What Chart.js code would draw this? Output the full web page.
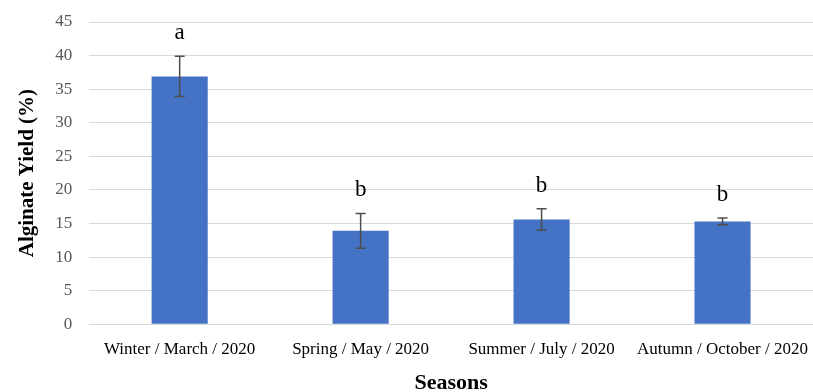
<!DOCTYPE html>
<html>
<head>
<meta charset="utf-8">
<script src="https://cdn.jsdelivr.net/npm/chart.js@4/dist/chart.umd.min.js"></script>
<style>
  html, body { margin: 0; padding: 0; background: #ffffff; }
  #wrap { width: 813px; height: 392px; }
</style>
</head>
<body>
<div id="wrap"><canvas id="c"></canvas></div>
<script>
// Alginate yield by harvest season, mean ± SD with significance letters
const seasons = ['Winter / March / 2020', 'Spring / May / 2020', 'Summer / July / 2020', 'Autumn / October / 2020'];
const yieldMean = [36.9, 13.9, 15.6, 15.3];
const yieldSD = [3.0, 2.6, 1.6, 0.5];
const groupLetters = ['a', 'b', 'b', 'b'];

const serif = "'Palatino Linotype', 'Book Antiqua', Palatino, 'Liberation Serif', serif";

const errorBarsPlugin = {
  id: 'errorBars',
  afterDatasetsDraw(chart) {
    const { ctx, scales: { y } } = chart;
    const meta = chart.getDatasetMeta(0);
    ctx.save();
    meta.data.forEach((bar, i) => {
      const x = bar.x;
      const top = y.getPixelForValue(yieldMean[i] + yieldSD[i]);
      const bot = y.getPixelForValue(yieldMean[i] - yieldSD[i]);
      ctx.strokeStyle = '#4d4d4d';
      ctx.lineWidth = 1.5;
      ctx.beginPath();
      ctx.moveTo(x, top); ctx.lineTo(x, bot);
      ctx.moveTo(x - 5, top); ctx.lineTo(x + 5, top);
      ctx.moveTo(x - 5, bot); ctx.lineTo(x + 5, bot);
      ctx.stroke();
      // significance letter above the error bar
      ctx.fillStyle = '#000000';
      ctx.font = "23px " + serif;
      ctx.textAlign = 'center';
      ctx.textBaseline = 'middle';
      ctx.fillText(groupLetters[i], x, top - 23);
    });
    ctx.restore();
  }
};

// let the plot area run to the edges; label overflow is allowed to spill
function noEdgePadding(scale) {
  scale.paddingLeft = 0;
  scale.paddingRight = 0;
  scale.paddingTop = 0;
  scale.paddingBottom = 0;
}

new Chart(document.getElementById('c'), {
  type: 'bar',
  data: {
    labels: seasons,
    datasets: [{
      data: yieldMean,
      backgroundColor: '#4472c4',
      borderWidth: 0,
      barPercentage: 0.31,
      categoryPercentage: 1.0
    }]
  },
  options: {
    responsive: true,
    maintainAspectRatio: false,
    animation: false,
    layout: { padding: { top: 22, right: -6, left: 5, bottom: -5 } },
    plugins: {
      legend: { display: false },
      tooltip: { enabled: false }
    },
    scales: {
      x: {
        afterFit: noEdgePadding,
        grid: { display: false },
        border: { display: false },
        ticks: { color: '#000000', font: { family: serif, size: 17 }, padding: 7, maxRotation: 0 },
        title: { display: true, text: 'Seasons', color: '#000000', font: { family: serif, size: 22, weight: 'bold' }, padding: { top: 4, bottom: 0 } }
      },
      y: {
        afterFit: noEdgePadding,
        min: 0, max: 45,
        grid: { color: '#d9d9d9', lineWidth: 1, drawTicks: false },
        border: { display: false },
        ticks: { stepSize: 5, color: '#595959', font: { family: serif, size: 17 }, padding: 17 },
        title: { display: true, text: 'Alginate Yield (%)', color: '#000000', font: { family: serif, size: 21, weight: 'bold' }, padding: { top: 10, bottom: -2 } }
      }
    }
  },
  plugins: [errorBarsPlugin]
});
</script>
</body>
</html>
